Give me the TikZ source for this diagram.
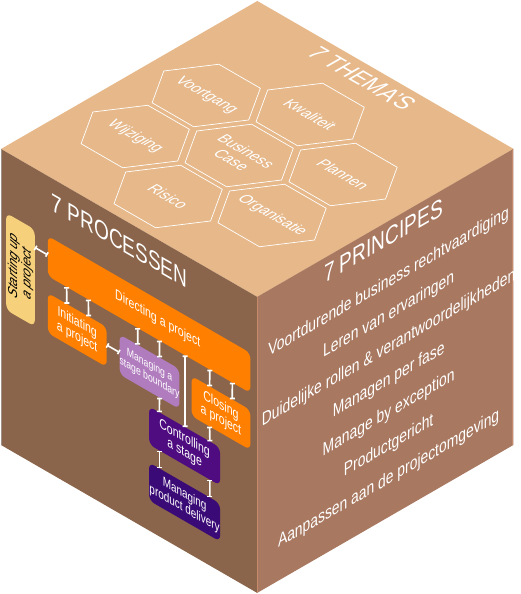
\documentclass[tikz,border=0pt]{standalone}
\usepackage{fontspec}
\setmainfont{Liberation Sans}[FakeStretch=0.87]
\usetikzlibrary{calc,arrows.meta}

\definecolor{topface}{HTML}{E6B88A}
\definecolor{leftface}{HTML}{8A654B}
\definecolor{rightface}{HTML}{A87860}
\definecolor{rightedge}{HTML}{C38B6B}
\definecolor{leftedge}{HTML}{9C9088}
\definecolor{procorange}{HTML}{FF8000}
\definecolor{startyellow}{HTML}{F7D07C}
\definecolor{stagelilac}{HTML}{B07CBE}
\definecolor{ctrlpurple}{HTML}{4E0C80}
\definecolor{delivpurple}{HTML}{3A0A76}

\begin{document}
\begin{tikzpicture}[x=1pt,y=1pt,
  every node/.style={inner sep=0pt,text=white,transform shape},
  facetext/.style={font=\fontsize{25.3}{29}\selectfont,anchor=base},
  hexcell/.style={draw=white,line width=0.7pt},
  hexlabel/.style={font=\fontsize{16.5}{17}\selectfont,align=center},
  procbox/.style={fill=procorange,rounded corners=6pt,align=center,font=\fontsize{14}{14.5}\selectfont},
  link/.style={draw=white,line width=1.6pt,{Bar[width=5pt]}-{Bar[width=5pt]}},
  principle/.style={font=\fontsize{18.4}{20}\selectfont,anchor=base}]
  \useasboundingbox (0,0) rectangle (520,594);

  % Top face: the themes
  \begin{scope}[cm={0.866,-0.5,0.866,0.5,(1pt,445pt)}]
    \fill[topface] (0,0) rectangle (296,296);
    \node[facetext] (themas) at (138,270) {7 THEMA'S};
    \foreach \a/\b/\nm/\txt in {144/131/bc/{Business\\Case},65/172/voortgang/Voortgang,
        65/90/wijziging/Wijziging,144/213/kwaliteit/Kwaliteit,144/49/risico/Risico,
        223/172/plannen/Plannen,223/90/organisatie/Organisatie}{
      \draw[hexcell] (\a,\b) ++(49,0) -- ++(-25,38.5) -- ++(-48,0) -- ++(-25,-38.5)
        -- ++(25,-38.5) -- ++(48,0) -- cycle;
      \node[hexlabel] (\nm) at (\a,\b) {\txt};
    }
  \end{scope}

  % Left face: the processes
  \begin{scope}[cm={0.866,-0.5,0,1,(1pt,149pt)}]
    \fill[leftface] (0,0) rectangle (296,296);
    \draw[leftedge,line width=1.2pt] (0.6,0) -- (0.6,296);
    \node[facetext] (processen) at (137,264) {7 PROCESSEN};

    \node[procbox,fill=startyellow,text=black,rotate=90,minimum width=97pt,minimum height=33pt,font=\fontsize{15}{15.5}\selectfont\itshape] (start) at (22.5,186.5) {Starting up\\a project};
    \node[procbox,minimum width=234pt,minimum height=40pt] (dir) at (171,216) {\hspace*{20pt}Directing a project};
    \node[procbox,minimum width=68pt,minimum height=40pt] (init) at (88,159) {Initiating\\a project};
    \node[procbox,fill=stagelilac,minimum width=69pt,minimum height=40pt,font=\fontsize{11.5}{12.5}\selectfont] (msb) at (171.5,159) {Managing a\\stage boundary};
    \node[procbox,minimum width=68pt,minimum height=40pt] (close) at (254,159) {Closing\\a project};
    \node[procbox,fill=ctrlpurple,minimum width=82pt,minimum height=38pt] (ctrl) at (212,105) {Controlling\\a stage};
    \node[procbox,fill=delivpurple,minimum width=82pt,minimum height=38pt,font=\fontsize{13.2}{14}\selectfont] (mpd) at (212,49) {Managing\\product delivery};

    % Links
    \draw[link] ($(start.south west)!0.814!(start.south east)$) -- ($(dir.south west)!0.525!(dir.north west)$);
    \draw[link] ($(init.south east)!0.55!(init.north east)$) -- ($(msb.south west)!0.55!(msb.north west)$);
    \draw[link] ($(dir.south west)!0.094!(dir.south east)$) -- ($(init.north west)!0.324!(init.north east)$);
    \draw[link] ($(dir.south west)!0.201!(dir.south east)$) -- ($(init.north west)!0.691!(init.north east)$);
    \draw[link] ($(dir.south west)!0.444!(dir.south east)$) -- ($(msb.north west)!0.304!(msb.north east)$);
    \draw[link] ($(dir.south west)!0.551!(dir.south east)$) -- ($(msb.north west)!0.667!(msb.north east)$);
    \draw[link] ($(dir.south west)!0.677!(dir.south east)$) -- ($(ctrl.north west)!0.506!(ctrl.north east)$);
    \draw[link] ($(dir.south west)!0.799!(dir.south east)$) -- ($(close.north west)!0.309!(close.north east)$);
    \draw[link] ($(dir.south west)!0.910!(dir.south east)$) -- ($(close.north west)!0.691!(close.north east)$);
    \draw[link] ($(msb.south west)!0.667!(msb.south east)$) -- ($(ctrl.north west)!0.146!(ctrl.north east)$);
    \draw[link] ($(close.south west)!0.309!(close.south east)$) -- ($(ctrl.north west)!0.854!(ctrl.north east)$);
    \draw[link] ($(ctrl.south west)!0.146!(ctrl.south east)$) -- ($(mpd.north west)!0.146!(mpd.north east)$);
    \draw[link] ($(ctrl.south west)!0.854!(ctrl.south east)$) -- ($(mpd.north west)!0.854!(mpd.north east)$);
  \end{scope}

  % Right face: the principles
  \begin{scope}[cm={0.866,0.5,0,1,(257pt,1pt)}]
    \fill[rightface] (0,0) rectangle (296,296);
    \draw[rightedge,line width=1pt] (0.5,0) -- (0.5,296) (295.5,0) -- (295.5,296);
    \node[facetext] (principes) at (146,271) {7 PRINCIPES};
    \node[principle] (pr1) at (152,230) {Voortdurende business rechtvaardiging};
    \node[principle] (pr2) at (152,197) {Leren van ervaringen};
    \node[principle] (pr3) at (152,164) {Duidelijke rollen \& verantwoordelijkheden};
    \node[principle] (pr4) at (152,132) {Managen per fase};
    \node[principle] (pr5) at (152,99) {Manage by exception};
    \node[principle] (pr6) at (152,66) {Productgericht};
    \node[principle] (pr7) at (152,33) {Aanpassen aan de projectomgeving};
  \end{scope}
\end{tikzpicture}
\end{document}
